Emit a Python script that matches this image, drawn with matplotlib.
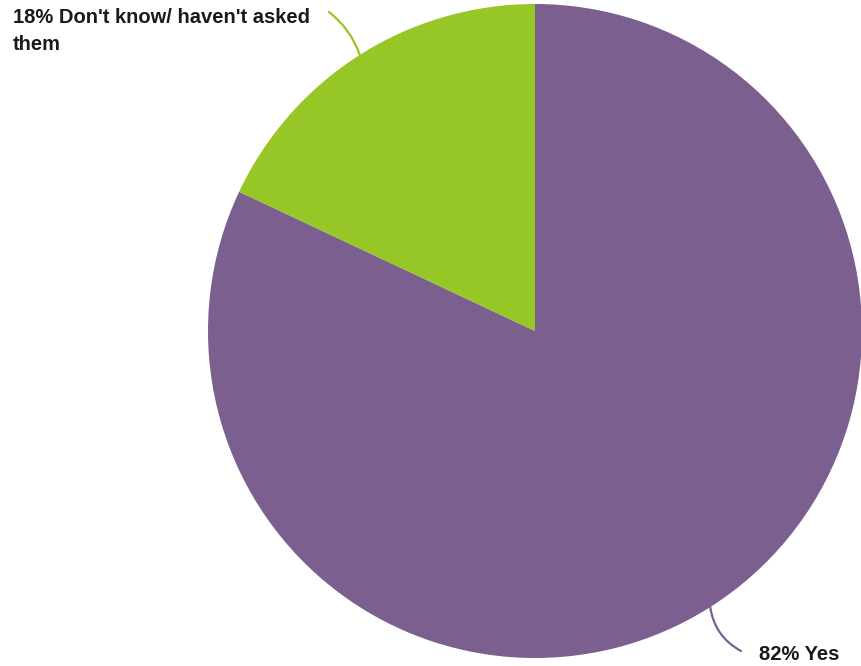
import numpy as np
import matplotlib.pyplot as plt

# survey answers
labels = ["Yes", "Don't know/ haven't asked\nthem"]
values = [82, 18]
colors = ["#7b5f8e", "#97c627"]

W, H = 861, 666
fig = plt.figure(figsize=(W / 100, H / 100), dpi=100)
ax = fig.add_axes([0, 0, 1, 1])

# pie in pixel units so the layout is easy to place
cx, cy, r = 535, 335, 327
wedges, _ = ax.pie(values, colors=colors, startangle=90, counterclock=False,
                   center=(cx, cy), radius=r,
                   wedgeprops=dict(linewidth=0))
ax.set_xlim(0, W)
ax.set_ylim(0, H)
ax.set_aspect("equal")
ax.axis("off")

font = dict(family=["Liberation Sans", "DejaVu Sans"], fontweight="bold",
            fontsize=14.5, color="#1a1a1a")

# label positions (text anchor, end of leader line)
text_pos = [(759, 12, "left", "center"), (13, 658, "left", "top")]
line_end = [(741, 15), (329, 654)]
rads = [-0.25, -0.15]

for w, lab, val, col, (tx, ty, ha, va), (lx, ly), rad in zip(
        wedges, labels, values, colors, text_pos, line_end, rads):
    mid = np.deg2rad((w.theta1 + w.theta2) / 2)
    px, py = cx + r * np.cos(mid), cy + r * np.sin(mid)
    ax.annotate("", xy=(px, py), xytext=(lx, ly),
                arrowprops=dict(arrowstyle="-", color=col, lw=1.6,
                                connectionstyle="arc3,rad=%s" % rad,
                                shrinkA=0, shrinkB=0))
    ax.text(tx, ty, "%d%% %s" % (val, lab), ha=ha, va=va,
            linespacing=1.55, **font)

fig.savefig("out.png", dpi=100, facecolor="white")
